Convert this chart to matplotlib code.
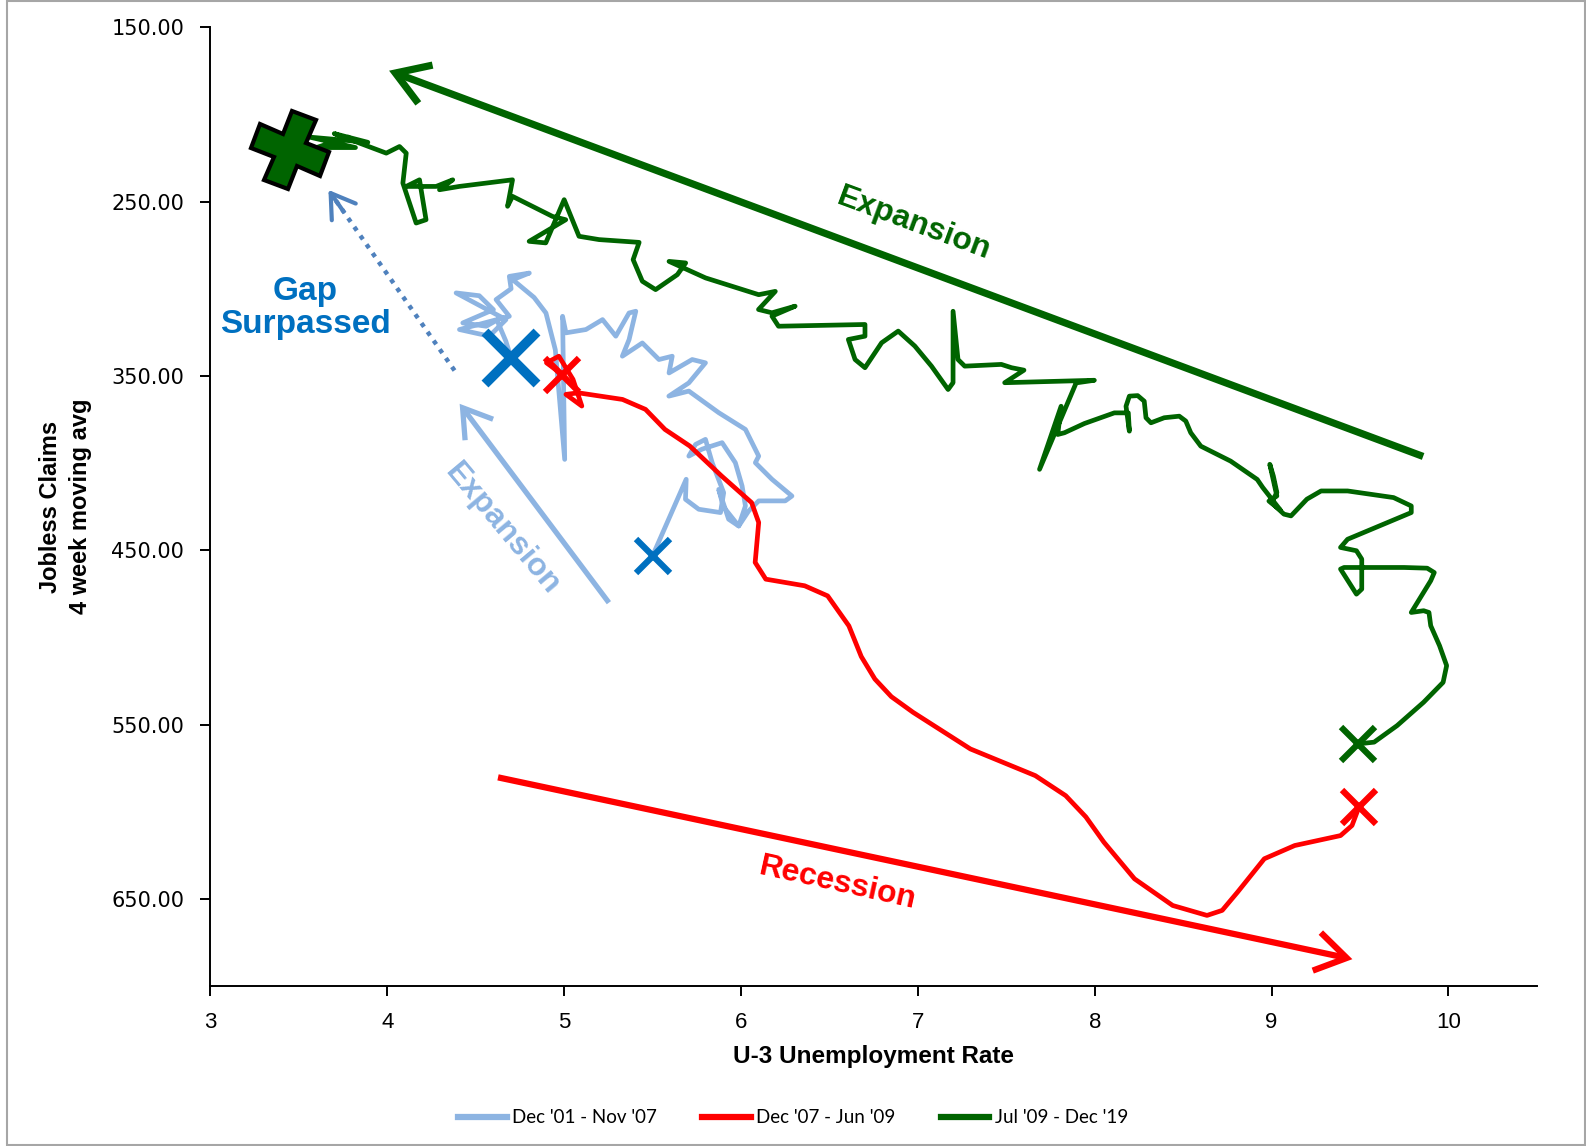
import matplotlib
matplotlib.use("Agg")
import matplotlib.pyplot as plt
from matplotlib.markers import MarkerStyle
from matplotlib.transforms import Affine2D
from matplotlib.patches import Rectangle
from matplotlib.lines import Line2D

plt.rcParams['font.family'] = ['Liberation Sans', 'DejaVu Sans']

# ---------------- data ----------------
# Dec '01 - Nov '07  (U-3 rate, jobless claims 4wk avg, thousands)
blue_x = [5.50, 5.69, 5.686, 5.761, 5.884, 5.902, 5.837, 5.799, 5.743, 5.705, 5.78, 5.893,
          5.968, 6.006, 6.025, 5.987, 5.930, 5.874, 5.90, 5.987,
          6.043, 6.100, 6.25, 6.288, 6.175, 6.081, 6.100, 6.025, 5.874, 5.705, 5.592, 5.705, 5.799,
          5.724, 5.593, 5.611, 5.536, 5.442, 5.329, 5.367, 5.405, 5.367, 5.292, 5.217, 5.123, 5.010,
          4.991, 5.003, 4.95, 4.897, 4.83, 4.709, 4.803, 4.690, 4.700, 4.615, 4.690, 4.408, 4.577,
          4.671, 4.389, 4.52, 4.60, 4.427, 4.559, 4.62, 4.67, 4.700]
blue_y = [453.2, 409.3, 420.8, 426.5, 428.4, 417.0, 399.8, 386.4, 389.3, 396.0, 392.0, 388.3,
          399.8, 413.1, 424.6, 436.1, 432.2, 415.1, 425.0, 436.1,
          427.5, 421.7, 421.7, 418.9, 409.3, 399.8, 396.0, 380.7, 371.1, 358.7, 361.6, 354.0, 342.5,
          340.6, 348.3, 338.7, 340.6, 331.1, 338.7, 329.2, 312.9, 313.9, 327.2, 317.7, 323.4, 325.3,
          315.8, 397.9, 335.0, 313.9, 305.0, 294.8, 291.0, 292.9, 300.0, 306.2, 315.8, 323.4, 327.2,
          317.7, 302.4, 304.0, 312.0, 319.6, 321.5, 318.0, 330.0, 339.7]

# Dec '07 - Jun '09
red_x = [4.99, 4.90, 4.97, 5.05, 5.10, 5.01, 5.08, 5.33, 5.46, 5.57, 5.71, 5.89, 6.06, 6.10,
         6.08, 6.14, 6.36, 6.49, 6.61, 6.68, 6.757, 6.85, 6.973, 7.297, 7.664, 7.836, 7.95, 8.052,
         8.225, 8.441, 8.635, 8.721, 8.808, 8.959, 9.131, 9.390, 9.455, 9.494]
red_y = [349.2, 342.5, 338.7, 352.0, 367.3, 360.6, 359.7, 363.5, 369.2, 380.7, 390.2, 407.4, 422.7,
         434.1, 457.0, 466.6, 470.4, 476.2, 493.4, 511.0, 523.9, 534.0, 543.0, 564.0, 579.3, 590.8,
         603.0, 617.5, 638.5, 653.8, 659.5, 656.6, 646.1, 627.0, 619.4, 613.7, 607.9, 597.4]

# Jul '09 - Dec '19
green_x = [9.49, 9.58, 9.71, 9.86, 9.97, 9.99, 9.95, 9.90, 9.89, 9.86, 9.79, 9.90, 9.92, 9.88, 9.75,
           9.41, 9.39, 9.48, 9.51, 9.51, 9.48, 9.39, 9.43, 9.79, 9.79, 9.69, 9.43, 9.28, 9.20, 9.11,
           9.07, 9.00, 9.03, 9.01, 8.99, 9.03, 8.985, 9.05, 8.95, 8.919, 8.769, 8.600, 8.543, 8.515,
           8.478, 8.393, 8.318, 8.290, 8.280, 8.243, 8.196, 8.177, 8.196, 8.190, 8.111, 7.942, 7.829,
           7.791, 7.810, 7.688, 7.895, 7.998, 7.491, 7.60, 7.53, 7.472, 7.265, 7.227, 7.199, 7.199,
           7.171, 7.077, 6.983, 6.889, 6.795, 6.701, 6.645, 6.607, 6.701, 6.701, 6.212, 6.175, 6.306,
           6.175, 6.099, 6.194, 6.100, 5.800, 5.593, 5.687, 5.640, 5.517, 5.442, 5.390, 5.424, 5.197,
           5.084, 5.000, 4.896, 4.802, 5.009, 4.934, 4.708, 4.680, 4.708, 4.407, 4.295, 4.370, 4.276,
           4.107, 4.182, 4.219, 4.163, 4.088, 4.107, 4.069, 3.994, 3.70, 3.89, 3.56, 3.82, 3.60,
           3.78, 3.55, 3.45]
green_y = [561.1, 560.1, 550.6, 537.2, 525.8, 516.2, 504.8, 493.3, 485.7, 484.7, 485.7, 467.5, 462.8,
           460.3, 459.9, 459.9, 460.8, 475.2, 472.3, 455.1, 450.3, 448.4, 443.7, 428.4, 424.6, 419.8,
           416.0, 416.0, 420.7, 430.3, 429.3, 422.7, 416.9, 407.4, 400.7, 418.9, 421.8, 427.0, 414.0,
           409.4, 398.9, 390.3, 382.6, 375.9, 373.1, 374.0, 376.9, 374.0, 364.5, 361.3, 361.6, 367.4,
           381.7, 371.2, 371.2, 377.3, 382.6, 383.6, 367.4, 403.6, 354.0, 352.5, 353.9, 346.7, 345.3,
           343.4, 344.4, 340.6, 312.9, 353.9, 357.8, 344.4, 332.9, 324.3, 331.0, 345.3, 340.6, 329.1,
           327.2, 320.5, 321.5, 315.7, 310.0, 313.8, 311.9, 301.5, 303.4, 293.8, 284.3, 285.2, 291.9,
           300.5, 295.7, 283.3, 273.4, 271.8, 269.9, 248.9, 273.7, 272.8, 260.4, 258.5, 247.0, 252.7,
           237.5, 241.3, 243.2, 237.5, 241.3, 241.3, 237.5, 260.4, 262.3, 239.4, 222.2, 218.4, 222.2,
           211.0, 216.0, 213.0, 219.0, 219.0, 213.0, 222.0, 220.3]

series_labels = ["Dec '01 - Nov '07", "Dec '07 - Jun '09", "Jul '09 - Dec '19"]
x_ticks = [3, 4, 5, 6, 7, 8, 9, 10]
y_ticks = [150, 250, 350, 450, 550, 650]

# annotation arrows (tail -> head) in data coordinates
green_arrow = ((9.857, 396.2), (4.010, 174.9))
red_arrow = ((4.626, 580.3), (9.457, 684.6))
lblue_arrow = ((5.253, 480.1), (4.409, 366.0))
gap_arrow = ((4.380, 346.9), (3.667, 243.3))

C_LBLUE = '#8DB4E2'
C_RED = '#FF0000'
C_GREEN = '#006400'
C_BLUE = '#0070C0'
C_GAP = '#4F81BD'

# ---------------- figure ----------------
fig = plt.figure(figsize=(15.86, 11.46), dpi=100)
ax = fig.add_axes([0.1327, 0.1396, 0.8363, 0.8366])

lw = 3.4
ax.plot(blue_x, blue_y, color=C_LBLUE, lw=lw, solid_joinstyle='round', solid_capstyle='round', zorder=2)
ax.plot(green_x, green_y, color=C_GREEN, lw=lw, solid_joinstyle='round', solid_capstyle='round', zorder=3)
ax.plot(red_x, red_y, color=C_RED, lw=lw, solid_joinstyle='round', solid_capstyle='round', zorder=4)

# start / end markers
ax.plot(blue_x[0], blue_y[0], marker='x', ms=24, mew=4.5, color=C_BLUE, zorder=6)
ax.plot(blue_x[-1], blue_y[-1], marker='x', ms=38, mew=7, color=C_BLUE, zorder=6)
ax.plot(red_x[0], red_y[0], marker='x', ms=24, mew=4.5, color=C_RED, zorder=6)
ax.plot(red_x[-1], red_y[-1], marker='x', ms=24, mew=4.5, color=C_RED, zorder=6)
ax.plot(green_x[0], green_y[0], marker='x', ms=24, mew=4.5, color=C_GREEN, zorder=6)
plus = MarkerStyle('P', transform=Affine2D().rotate_deg(-22))
ax.plot(green_x[-1], green_y[-1], marker=plus, ms=54, mew=3, mfc=C_GREEN, mec='black', zorder=7)

# arrows
def arrow(tailhead, color, lw_, ms, ls='-'):
    (tx, ty), (hx, hy) = tailhead
    ax.annotate('', xy=(hx, hy), xytext=(tx, ty),
                arrowprops=dict(arrowstyle='->,head_length=0.55,head_width=0.35',
                                color=color, lw=lw_, mutation_scale=ms,
                                shrinkA=0, shrinkB=0, linestyle=ls,
                                capstyle='butt', joinstyle='miter'),
                zorder=5)

arrow(green_arrow, C_GREEN, 5.2, 42)
arrow(red_arrow, C_RED, 4.5, 40)
arrow(lblue_arrow, C_LBLUE, 3.8, 36)
# dotted arrow: dotted shaft + solid head
(gtx, gty), (ghx, ghy) = gap_arrow
ax.plot([gtx, ghx + (gtx - ghx) * 0.03], [gty, ghy + (gty - ghy) * 0.03], color=C_GAP, lw=3.2,
        linestyle=(0, (1.0, 1.4)), zorder=5)
ax.annotate('', xy=(ghx, ghy), xytext=(ghx + (gtx - ghx) * 0.12, ghy + (gty - ghy) * 0.12),
            arrowprops=dict(arrowstyle='->,head_length=0.55,head_width=0.35', color=C_GAP,
                            lw=3.0, mutation_scale=30, shrinkA=0, shrinkB=0), zorder=5)

# texts
ax.text(6.976, 263, 'Expansion', color=C_GREEN, fontsize=23, fontweight='bold',
        rotation=-20.3, ha='center', va='center', rotation_mode='anchor')
ax.text(6.548, 641, 'Recession', color=C_RED, fontsize=23, fontweight='bold',
        rotation=-12.5, ha='center', va='center', rotation_mode='anchor')
ax.text(4.649, 438, 'Expansion', color=C_LBLUE, fontsize=23, fontweight='bold',
        rotation=-50, ha='center', va='center', rotation_mode='anchor')
ax.text(3.536, 311, 'Gap\nSurpassed', color=C_BLUE, fontsize=24, fontweight='bold',
        ha='center', va='center', linespacing=1.1)

# axes styling
ax.set_xlim(3, 10.5)
ax.set_ylim(700, 150)
ax.set_xticks(x_ticks)
ax.set_xticklabels([str(v) for v in x_ticks], fontsize=16)
ax.set_yticks(y_ticks)
ax.set_yticklabels([f'{v:.2f}' for v in y_ticks], fontsize=15, family=['DejaVu Sans'])
for s in ['top', 'right']:
    ax.spines[s].set_visible(False)
for s in ['left', 'bottom']:
    ax.spines[s].set_linewidth(1.4)
ax.tick_params(axis='both', direction='out', length=7, width=1.4)
ax.tick_params(axis='y', pad=12)
ax.tick_params(axis='x', pad=12)

ax.set_xlabel('U-3 Unemployment Rate', fontsize=17.5, fontweight='bold', labelpad=8)
ax.set_ylabel('Jobless Claims\n4 week moving avg', fontsize=17, fontweight='bold',
              labelpad=14, linespacing=1.35)

# legend
handles = [Line2D([], [], color=c, lw=4.5) for c in (C_LBLUE, C_RED, C_GREEN)]
fig.legend(handles, series_labels, loc='center', bbox_to_anchor=(0.5, 0.0245), ncol=3,
           frameon=False, handlelength=2.6, columnspacing=2.4, handletextpad=0.3,
           prop={'family': ['Lato', 'DejaVu Sans'], 'size': 13.5})

# figure border
fig.patches.append(Rectangle((0.0045, 0.001), 0.995, 0.998, transform=fig.transFigure,
                             fill=False, edgecolor='#a6a6a6', lw=1.5))

fig.savefig('out.png', dpi=100)
